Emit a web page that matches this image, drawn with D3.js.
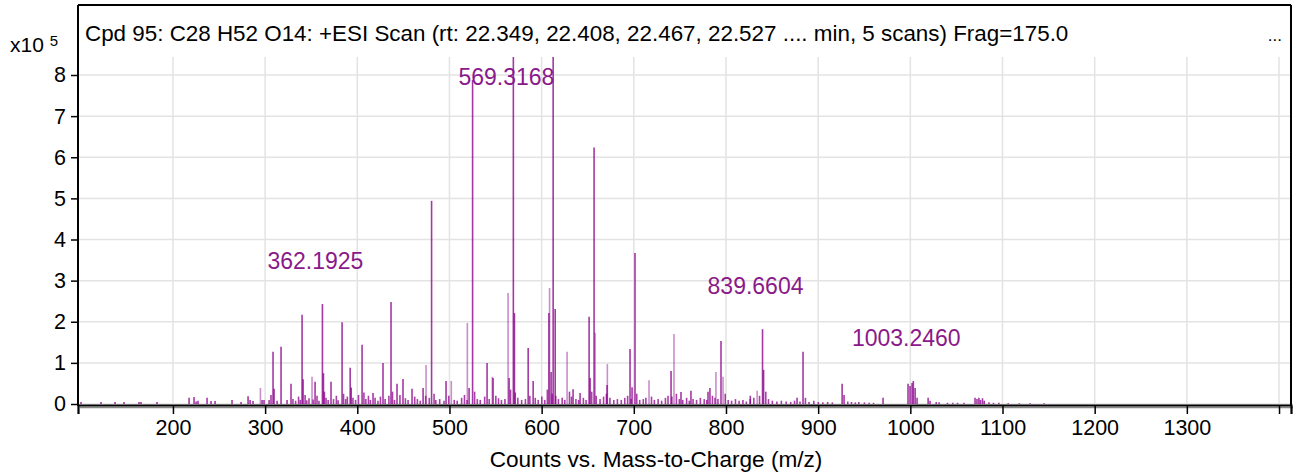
<!DOCTYPE html>
<html><head><meta charset="utf-8">
<script src="https://cdn.jsdelivr.net/npm/d3@7"></script>
<style>
body{margin:0;background:#fff;}
svg text{font-family:"Liberation Sans",Arial,Helvetica,sans-serif;}
</style>
</head><body>
<svg id="chart" width="1293" height="473"></svg>
<script>
// ---------- data ----------
const titleText = "Cpd 95: C28 H52 O14: +ESI Scan (rt: 22.349, 22.408, 22.467, 22.527 .... min, 5 scans) Frag=175.0";
const xAxisTitle = "Counts vs. Mass-to-Charge (m/z)";
const yPrefix = "x10";
const yExponent = "5";
const xTickValues = [200, 300, 400, 500, 600, 700, 800, 900, 1000, 1100, 1200, 1300, 1400];
const xTickLabels = ["200", "300", "400", "500", "600", "700", "800", "900", "1000", "1100", "1200", "1300", ""];
const yTickValues = [0, 1, 2, 3, 4, 5, 6, 7, 8];
const mzRange = [97, 1413];
const countRange = [0, 8];           // counts x10^5 (axis clipped slightly above 8)

// principal peaks (counts x10^5)
const mainMz = [100.3, 122.0, 137.2, 146.9, 163.2, 165.4, 182.7, 217.5, 222.9, 225.1, 227.2, 237.0, 241.3, 245.7,
  264.1, 273.9, 281.5, 283.7, 286.9, 296.7, 298.8, 304.3, 306.4, 308.6, 309.7, 313.0, 317.3, 323.8, 328.1,
  340.1, 341.2, 354.2, 362.19, 363.3, 371.5, 383.5, 392.3, 393.4, 405.2, 417.1, 427.9, 436.6, 443.1, 449.6,
  459.4, 471.4, 480.6, 496.3, 521.3, 525.1, 540.8, 547.3, 564.7, 569.32, 570.5, 585.4, 590.8, 607.9, 610.3,
  612.5, 614.7, 634.1, 641.7, 651.5, 652.6, 656.9, 671.0, 695.9, 698.1, 701.3, 740.4, 751.2, 762.0, 780.5,
  782.6, 794.6, 826.4, 839.66, 840.8, 877.1, 883.6, 926.0, 928.1, 970.4, 997.5, 999.7, 1001.9, 1003.25,
  1005.2, 1007.3, 1019.3, 1021.4, 1070.2, 1072.3, 1074.4, 1076.1, 1078.3, 1080.2];
const mainCounts = [0.05, 0.05, 0.05, 0.05, 0.05, 0.05, 0.05, 0.15, 0.17, 0.06, 0.08, 0.15, 0.07, 0.07,
  0.10, 0.05, 0.19, 0.10, 0.07, 0.10, 0.10, 0.10, 0.22, 1.27, 0.37, 0.08, 1.39, 0.10, 0.49,
  2.17, 0.60, 0.54, 2.43, 0.75, 0.54, 1.99, 0.88, 0.40, 1.44, 0.27, 1.00, 2.48, 0.49, 0.61,
  0.37, 0.39, 4.94, 0.56, 0.39, 7.88, 1.00, 0.63, 0.63, 8.60, 2.21, 1.36, 0.56, 2.21, 0.78,
  8.70, 2.31, 0.36, 0.27, 2.12, 0.63, 6.24, 0.46, 1.34, 0.41, 3.67, 0.80, 0.29, 0.32, 0.30,
  0.39, 1.53, 0.20, 1.82, 0.83, 0.15, 1.27, 0.49, 0.22, 0.15, 0.49, 0.44, 0.51, 0.56,
  0.39, 0.15, 0.15, 0.08, 0.15, 0.12, 0.15, 0.10, 0.14, 0.08];

// peaks from the other overlaid scans (counts x10^5)
const overlayMz = [294.9, 350.9, 474.6, 502.0, 519.4, 546.5, 563.6, 608.6, 627.6, 658.0, 671.3, 716.5,
  743.6, 789.1, 796.8, 833.8];
const overlayCounts = [0.39, 0.66, 0.95, 0.56, 1.97, 0.66, 2.70, 2.82, 1.27, 1.73, 0.97, 0.58,
  1.70, 0.78, 0.66, 0.32];

// low-level baseline signals (counts x10^5)
const baselineMz = [330.2, 333.1, 336.3, 338.2, 343.4, 345.2, 347.6, 352.1, 356.3, 358.4, 364.3, 366.1, 368.4,
  374.2, 377.3, 379.2, 385.1, 387.4, 389.2, 395.3, 398.1, 401.3, 407.2, 409.3, 412.1, 414.2, 419.3, 422.4,
  425.1, 430.2, 434.3, 438.2, 440.4, 446.3, 452.2, 455.1, 462.3, 465.2, 468.3, 474.2, 478.1, 483.3, 485.2,
  489.4, 494.1, 499.3, 505.2, 508.4, 513.2, 516.3, 519.1, 527.3, 530.2, 533.4, 538.2, 543.1, 550.3, 553.2,
  556.4, 560.2, 566.3, 571.4, 574.2, 578.3, 582.4, 587.2, 593.1, 596.3, 600.2, 603.4, 606.2, 611.4, 615.3,
  618.2, 622.3, 625.1, 630.2, 632.4, 637.2, 640.1, 645.3, 648.2, 654.3, 659.2, 663.4, 667.2, 670.3, 674.1,
  678.3, 682.2, 686.4, 690.2, 693.3, 697.1, 703.2, 706.4, 710.3, 713.1, 719.2, 722.3, 726.4, 730.2, 734.3,
  737.1, 741.3, 746.2, 749.4, 753.1, 757.3, 760.2, 764.3, 768.1, 772.2, 776.4, 779.2, 785.3, 788.1, 791.3,
  799.2, 802.4, 806.1, 810.3, 814.2, 818.4, 822.1, 826.3, 830.2, 836.4, 843.2, 846.1, 850.3, 855.2, 860.1,
  865.3, 870.2, 874.4, 880.3, 886.2, 890.1, 895.3, 900.2, 905.1, 910.3, 915.4, 932.1, 936.2, 940.3, 944.1,
  950.2, 955.3, 960.1, 1028.1, 1031.2, 1040.3, 1046.1, 1051.2, 1058.2, 1085.3, 1090.2, 1096.1, 1106.2,
  1118.3, 1130.1, 1145.2];
const baselineCounts = [0.12, 0.08, 0.18, 0.10, 0.22, 0.09, 0.14, 0.11, 0.20, 0.08, 0.30, 0.15, 0.10,
  0.12, 0.20, 0.09, 0.25, 0.12, 0.18, 0.15, 0.10, 0.22, 0.28, 0.12, 0.20, 0.10, 0.15, 0.08,
  0.18, 0.12, 0.20, 0.30, 0.10, 0.22, 0.14, 0.10, 0.18, 0.12, 0.08, 0.20, 0.15, 0.25, 0.10,
  0.12, 0.08, 0.20, 0.10, 0.08, 0.15, 0.22, 0.10, 0.30, 0.12, 0.10, 0.18, 0.12, 0.20, 0.14,
  0.10, 0.12, 0.35, 0.28, 0.15, 0.10, 0.12, 0.20, 0.15, 0.10, 0.18, 0.10, 0.35, 0.25, 0.20,
  0.12, 0.15, 0.10, 0.30, 0.18, 0.12, 0.10, 0.15, 0.10, 0.30, 0.20, 0.12, 0.18, 0.25, 0.15,
  0.10, 0.12, 0.10, 0.15, 0.20, 0.12, 0.25, 0.10, 0.12, 0.15, 0.18, 0.10, 0.12, 0.08, 0.15,
  0.20, 0.18, 0.25, 0.12, 0.10, 0.15, 0.08, 0.12, 0.10, 0.15, 0.12, 0.10, 0.20, 0.15, 0.12,
  0.25, 0.10, 0.08, 0.12, 0.08, 0.10, 0.06, 0.12, 0.15, 0.20, 0.30, 0.12, 0.08, 0.06, 0.08,
  0.06, 0.05, 0.08, 0.06, 0.15, 0.05, 0.08, 0.05, 0.04, 0.05, 0.04, 0.06, 0.05, 0.04, 0.05,
  0.04, 0.03, 0.03, 0.05, 0.04, 0.03, 0.03, 0.03, 0.03, 0.04, 0.03, 0.03, 0.02,
  0.02, 0.02, 0.02];

// peak annotations
const labelMz = [362.1925, 569.3168, 839.6604, 1003.2460];
const labelCounts = [2.43, 8.60, 1.82, 0.56];

// ---------- drawing ----------
const svg = d3.select("#chart");
const W = 1293, H = 473;
const frame = {left: 78, right: 1291, top: 5, bottom: 405};
const plotTop = 57;
const purple = "#8b008b";
const labelPurple = "#8a1a8a";

const x = d3.scaleLinear().domain(mzRange).range([frame.left, frame.right]);
const y = d3.scaleLinear().domain(countRange).range([404, 75]);

svg.append("rect").attr("width", W).attr("height", H).attr("fill", "#fff");

// gridlines
const grid = svg.append("g");
grid.selectAll("line.h").data(yTickValues).join("line")
  .attr("x1", frame.left).attr("x2", frame.right)
  .attr("y1", d => y(d)).attr("y2", d => y(d))
  .attr("stroke", "#e3e3e3").attr("stroke-width", 1.5);
grid.selectAll("line.v").data(xTickValues).join("line")
  .attr("x1", d => x(d)).attr("x2", d => x(d))
  .attr("y1", plotTop).attr("y2", frame.bottom)
  .attr("stroke", "#e3e3e3").attr("stroke-width", 1.5);

// clip
svg.append("clipPath").attr("id", "plotclip").append("rect")
  .attr("x", frame.left).attr("y", plotTop)
  .attr("width", frame.right - frame.left).attr("height", frame.bottom - plotTop);

const peaks = svg.append("g").attr("clip-path", "url(#plotclip)");
function drawSeries(mz, counts, opacity, width) {
  peaks.append("g").selectAll("line").data(mz.map((m, i) => [m, counts[i]])).join("line")
    .attr("x1", d => x(d[0])).attr("x2", d => x(d[0]))
    .attr("y1", y(0)).attr("y2", d => y(d[1]))
    .attr("stroke", purple).attr("stroke-opacity", opacity).attr("stroke-width", width);
}
drawSeries(overlayMz, overlayCounts, 0.45, 1.6);
drawSeries(baselineMz, baselineCounts, 0.75, 1.6);
drawSeries(mainMz, mainCounts, 0.78, 1.6);

// annotations
const topLabelY = y(7.75);
svg.append("g").selectAll("text").data(labelMz.map((m, i) => [m, labelCounts[i]])).join("text")
  .attr("x", d => x(d[0]) - 7)
  .attr("y", d => Math.max(y(d[1]) - 35, topLabelY))
  .attr("text-anchor", "middle")
  .attr("font-size", 23).attr("fill", labelPurple)
  .text(d => d[0].toFixed(4));

// frame
svg.append("line").attr("x1", frame.left).attr("x2", frame.right).attr("y1", frame.top).attr("y2", frame.top)
  .attr("stroke", "#000").attr("stroke-width", 2);
svg.append("line").attr("x1", frame.right).attr("x2", frame.right).attr("y1", frame.top).attr("y2", frame.bottom)
  .attr("stroke", "#000").attr("stroke-width", 2);
svg.append("line").attr("x1", frame.left).attr("x2", frame.left).attr("y1", frame.top).attr("y2", frame.bottom + 1)
  .attr("stroke", "#000").attr("stroke-width", 2);
svg.append("line").attr("x1", frame.left + 2).attr("x2", frame.right + 2).attr("y1", frame.bottom + 2.5).attr("y2", frame.bottom + 2.5)
  .attr("stroke", "#888").attr("stroke-width", 1.5);

// x axis
const xAxis = d3.axisBottom(x).tickValues(xTickValues)
  .tickFormat((d, i) => xTickLabels[i]).tickSize(9).tickPadding(6);
const gx = svg.append("g").attr("transform", `translate(0,${frame.bottom})`).call(xAxis);
gx.select(".domain").attr("stroke", "#000").attr("stroke-width", 2.2);
gx.selectAll(".tick line").attr("stroke", "#000").attr("stroke-width", 1.5);
gx.selectAll(".tick text").attr("font-size", 21.5).attr("fill", "#000")
  .attr("font-family", "'Liberation Sans',Arial,sans-serif");

// y axis
const yAxis = d3.axisLeft(y).tickValues(yTickValues).tickFormat(d3.format("d")).tickSize(7).tickPadding(5);
const gy = svg.append("g").attr("transform", `translate(${frame.left},0)`).call(yAxis);
gy.select(".domain").remove();
gy.selectAll(".tick line").attr("stroke", "#000").attr("stroke-width", 1.5);
gy.selectAll(".tick text").attr("font-size", 21.5).attr("fill", "#000")
  .attr("font-family", "'Liberation Sans',Arial,sans-serif");

// exponent label
const ex = svg.append("text").attr("x", 10).attr("y", 52).attr("font-size", 21).attr("fill", "#000");
ex.append("tspan").text(yPrefix + " ");
ex.append("tspan").attr("font-size", 15).attr("dy", -6).text(yExponent);

// title
svg.append("text").attr("x", 85).attr("y", 41).attr("font-size", 22.4).attr("fill", "#000").text(titleText);
svg.append("text").attr("x", 1282).attr("y", 41).attr("text-anchor", "end").attr("font-size", 17).attr("fill", "#000").text("...");

// x axis title
svg.append("text").attr("x", 656).attr("y", 467).attr("text-anchor", "middle")
  .attr("font-size", 22.6).attr("fill", "#000").text(xAxisTitle);
</script>
</body></html>
